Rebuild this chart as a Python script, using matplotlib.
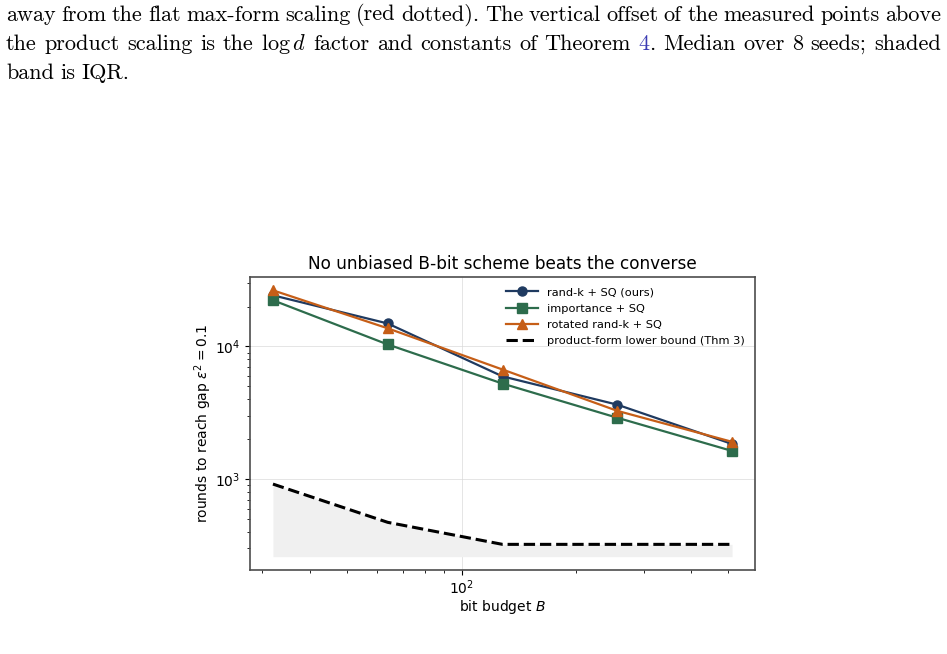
import numpy as np
import matplotlib
matplotlib.use('Agg')
import matplotlib.pyplot as plt

# bit budgets and median rounds to reach the target gap
budgets = [32, 64, 128, 256, 512]
randk_sq = [24300, 14900, 5950, 3640, 1840]
importance_sq = [22300, 10350, 5250, 2900, 1630]
rotated_sq = [26500, 13700, 6700, 3270, 1910]
lower_bound = [917, 472, 322, 322, 322]
band_low = [260, 260, 260, 260, 260]

# caption words per line; '|' marks a blue (linked) piece
caption_lines = [
    "away from the flat max-form scaling (red dotted). The vertical offset of the measured points above".split(' '),
    ["the", "product", "scaling", "is", "the", "$\\log d$", "factor", "and", "constants", "of",
     "Theorem", "|4|.", "Median", "over", "8", "seeds;", "shaded"],
    "band is IQR.".split(' '),
]

fig = plt.figure(figsize=(9.47, 6.54), dpi=100)

# caption text, justified across the page width
cap_font = dict(family='cmr10', size=16, math_fontfamily='cm')
x0, x1 = 6 / 947, 941 / 947
ys = [1 - 15 / 654, 1 - 44 / 654, 1 - 73 / 654]
renderer = fig.canvas.get_renderer()
for i, words in enumerate(caption_lines):
    pieces = []
    for w in words:
        if '|' in w:
            parts = w.split('|')
            pieces.append([(parts[1], '#3b3bb3'), (parts[2], 'black')])
        else:
            pieces.append([(w, 'black')])
    texts = []
    widths = []
    for p in pieces:
        tw = []
        for s, c in p:
            t = fig.text(0, ys[i], s, color=c, va='center', ha='left', **cap_font)
            tw.append((t, t.get_window_extent(renderer).width / fig.bbox.width))
        texts.append(tw)
        widths.append(sum(w for _, w in tw))
    last = (i == len(caption_lines) - 1)
    gap = 0.0065 if last else (x1 - x0 - sum(widths)) / (len(widths) - 1)
    x = x0
    for tw in texts:
        for t, w in tw:
            t.set_x(x)
            x += w
        x += gap

ax = fig.add_axes([250 / 947, 84 / 654, 505 / 947, 293 / 654])

ax.fill_between(budgets, band_low, lower_bound, color='0.94', lw=0)
ax.plot(budgets, randk_sq, '-o', color='#1f3a60', lw=1.6, ms=6.5, label='rand-k + SQ (ours)')
ax.plot(budgets, importance_sq, '-s', color='#2d6c4c', lw=1.6, ms=6.5, label='importance + SQ')
ax.plot(budgets, rotated_sq, '-^', color='#c65e17', lw=1.6, ms=6.5, label='rotated rand-k + SQ')
ax.plot(budgets, lower_bound, '--', color='black', lw=2.2, label='product-form lower bound (Thm 3)')

ax.set_xscale('log')
ax.set_yscale('log')
ax.grid(True, which='major', color='0.85', lw=0.7, alpha=0.7)
ax.set_axisbelow(True)
for s in ax.spines.values():
    s.set_color('0.3')
    s.set_linewidth(1.2)
ax.tick_params(labelsize=10)
ax.tick_params(axis='x', pad=2.5)
ax.set_title('No unbiased B-bit scheme beats the converse', fontsize=12.2)
ax.set_xlabel('bit budget $B$', fontsize=10, labelpad=1)
ax.set_ylabel('rounds to reach gap $\\varepsilon^2 = 0.1$', fontsize=10, labelpad=1)
ax.legend(loc='upper right', frameon=False, fontsize=8.2, handlelength=2.8,
          labelspacing=0.55, borderaxespad=0.5)

fig.savefig('out.png', dpi=100)
